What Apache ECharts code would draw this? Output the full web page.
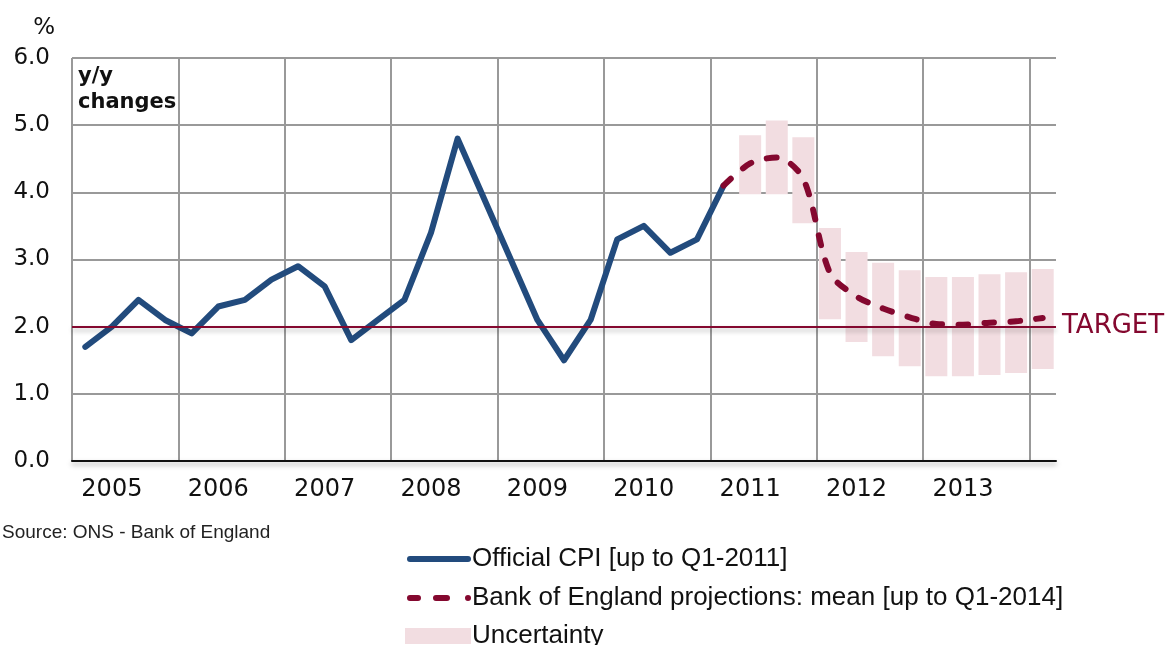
<!DOCTYPE html>
<html>
<head>
<meta charset="utf-8">
<script src="https://cdn.jsdelivr.net/npm/echarts@6/dist/echarts.min.js"></script>
<style>
  html, body { margin: 0; padding: 0; background: #fff; }
  #chart { width: 1168px; height: 645px; }
</style>
</head>
<body>
<div id="chart"></div>
<script>
// quarterly categories, Q1 2005 .. Q1 2014
const quarters = [
  '2005 Q1', '2005 Q2', '2005 Q3', '2005 Q4',
  '2006 Q1', '2006 Q2', '2006 Q3', '2006 Q4',
  '2007 Q1', '2007 Q2', '2007 Q3', '2007 Q4',
  '2008 Q1', '2008 Q2', '2008 Q3', '2008 Q4',
  '2009 Q1', '2009 Q2', '2009 Q3', '2009 Q4',
  '2010 Q1', '2010 Q2', '2010 Q3', '2010 Q4',
  '2011 Q1', '2011 Q2', '2011 Q3', '2011 Q4',
  '2012 Q1', '2012 Q2', '2012 Q3', '2012 Q4',
  '2013 Q1', '2013 Q2', '2013 Q3', '2013 Q4',
  '2014 Q1'
];

// official CPI, y/y %, up to Q1-2011
const cpi = [
  1.7, 2.0, 2.4, 2.1,
  1.9, 2.3, 2.4, 2.7,
  2.9, 2.6, 1.8, 2.1,
  2.4, 3.4, 4.8, 3.9,
  3.0, 2.1, 1.5, 2.1,
  3.3, 3.5, 3.1, 3.3,
  4.1, '-', '-', '-',
  '-', '-', '-', '-',
  '-', '-', '-', '-',
  '-'
];

// BoE projection mean, Q1-2011 .. Q1-2014
const projection = [
  '-', '-', '-', '-', '-', '-', '-', '-', '-', '-', '-', '-',
  '-', '-', '-', '-', '-', '-', '-', '-', '-', '-', '-', '-',
  4.1, 4.43, 4.52, 4.2,
  2.8, 2.45, 2.27, 2.14,
  2.04, 2.03, 2.06, 2.08,
  2.13
];

// uncertainty band low / high, Q2-2011 .. Q1-2014
const bandLow = [
  '-', '-', '-', '-', '-', '-', '-', '-', '-', '-', '-', '-',
  '-', '-', '-', '-', '-', '-', '-', '-', '-', '-', '-', '-',
  '-', 3.97, 3.97, 3.54,
  2.11, 1.77, 1.56, 1.41,
  1.26, 1.26, 1.28, 1.31,
  1.37
];
const bandHigh = [
  '-', '-', '-', '-', '-', '-', '-', '-', '-', '-', '-', '-',
  '-', '-', '-', '-', '-', '-', '-', '-', '-', '-', '-', '-',
  '-', 4.85, 5.07, 4.82,
  3.47, 3.11, 2.95, 2.84,
  2.74, 2.74, 2.78, 2.81,
  2.86
];

const target = 2.0;

const blue = '#224b7d';
const wine = '#84082f';
const pink = '#f2dde1';
const legendFont = '"Liberation Sans", sans-serif';
const axisFont = '"DejaVu Sans", sans-serif';

const cpiName = 'Official CPI [up to Q1-2011]';
const projName = 'Bank of England projections: mean [up to Q1-2014]';
const bandName = 'Uncertainty';

const bandSize = bandHigh.map((h, i) => (h === '-' ? '-' : +(h - bandLow[i]).toFixed(2)));

// legend glyphs: solid capsule, dash-dash-dot
const solidIcon = 'path://M3,0 H61 A3,3 0 0 1 61,6 H3 A3,3 0 0 1 3,0 Z';
const dashIcon = 'path://M3,0 H11 A3,3 0 0 1 11,6 H3 A3,3 0 0 1 3,0 Z ' +
  'M29,0 H40 A3,3 0 0 1 40,6 H29 A3,3 0 0 1 29,0 Z ' +
  'M61,0 A3,3 0 1 1 61,6 A3,3 0 1 1 61,0 Z';

const legendText = {
  fontFamily: legendFont,
  fontSize: 26,
  color: '#111',
  padding: [0, 0, 0, -4]
};

const chart = echarts.init(document.getElementById('chart'));

const option = {
  backgroundColor: '#fff',
  animation: false,
  grid: { left: 72, right: 112, top: 58, bottom: 184 },
  graphic: [
    {
      type: 'text',
      left: 78,
      top: 64,
      style: {
        text: 'y/y\nchanges',
        font: 'bold 21px "DejaVu Sans", sans-serif',
        lineHeight: 26,
        fill: '#111'
      }
    },
    {
      type: 'text',
      left: 2,
      top: 523,
      style: {
        text: 'Source: ONS - Bank of England',
        font: '19px ' + legendFont,
        fill: '#222'
      }
    }
  ],
  legend: [
    {
      left: 407,
      top: 546,
      padding: 0,
      itemWidth: 64,
      itemHeight: 6,
      data: [{ name: cpiName, icon: solidIcon, itemStyle: { borderWidth: 0 } }],
      textStyle: legendText
    },
    {
      left: 407,
      top: 585,
      padding: 0,
      itemWidth: 64,
      itemHeight: 6,
      data: [{ name: projName, icon: dashIcon, itemStyle: { borderWidth: 0 } }],
      textStyle: legendText
    },
    {
      left: 405,
      top: 623,
      padding: 0,
      itemWidth: 66,
      itemHeight: 16,
      data: [{ name: bandName, icon: 'rect' }],
      textStyle: legendText
    }
  ],
  xAxis: {
    type: 'category',
    data: quarters,
    boundaryGap: true,
    axisLine: {
      lineStyle: {
        color: '#111',
        width: 2,
        shadowColor: 'rgba(0,0,0,0.35)',
        shadowBlur: 5,
        shadowOffsetY: 3
      }
    },
    axisTick: { show: false },
    axisLabel: {
      interval: (index) => index % 4 === 1,
      formatter: (v) => v.slice(0, 4),
      fontFamily: axisFont,
      fontSize: 24,
      color: '#111',
      margin: 17
    },
    splitLine: {
      show: true,
      showMaxLine: false,
      interval: (index) => index % 4 === 0,
      lineStyle: { color: '#999', width: 2 }
    }
  },
  yAxis: {
    type: 'value',
    min: 0,
    max: 6,
    interval: 1,
    name: '%',
    nameLocation: 'end',
    nameGap: 18,
    nameTextStyle: {
      fontFamily: axisFont,
      fontSize: 23,
      color: '#111',
      align: 'right',
      padding: [0, 17, 0, 0]
    },
    axisLine: { show: false },
    axisTick: { show: false },
    axisLabel: {
      formatter: (v) => v.toFixed(1),
      fontFamily: axisFont,
      fontSize: 23,
      color: '#111',
      margin: 22
    },
    splitLine: { lineStyle: { color: '#999', width: 2 } }
  },
  series: [
    {
      name: 'bandBase',
      type: 'bar',
      stack: 'band',
      data: bandLow,
      barWidth: 22,
      itemStyle: { color: 'transparent' },
      silent: true
    },
    {
      name: bandName,
      type: 'bar',
      stack: 'band',
      data: bandSize,
      barWidth: 22,
      itemStyle: { color: pink }
    },
    {
      name: cpiName,
      type: 'line',
      data: cpi,
      symbol: 'none',
      color: blue,
      lineStyle: { color: blue, width: 6, cap: 'round', join: 'round' },
      markLine: {
        silent: true,
        symbol: 'none',
        data: [{ yAxis: target }],
        lineStyle: {
          color: wine,
          width: 2,
          type: 'solid',
          shadowColor: 'rgba(0,0,0,0.3)',
          shadowBlur: 5,
          shadowOffsetY: 3
        },
        label: {
          show: true,
          position: 'end',
          formatter: 'TARGET',
          color: wine,
          fontFamily: axisFont,
          fontSize: 26,
          distance: 6
        }
      }
    },
    {
      name: projName,
      type: 'line',
      data: projection,
      symbol: 'none',
      smooth: 0.3,
      color: wine,
      lineStyle: { color: wine, width: 6, type: [10, 16], cap: 'round', join: 'round' }
    }
  ]
};

chart.setOption(option);
</script>
</body>
</html>
